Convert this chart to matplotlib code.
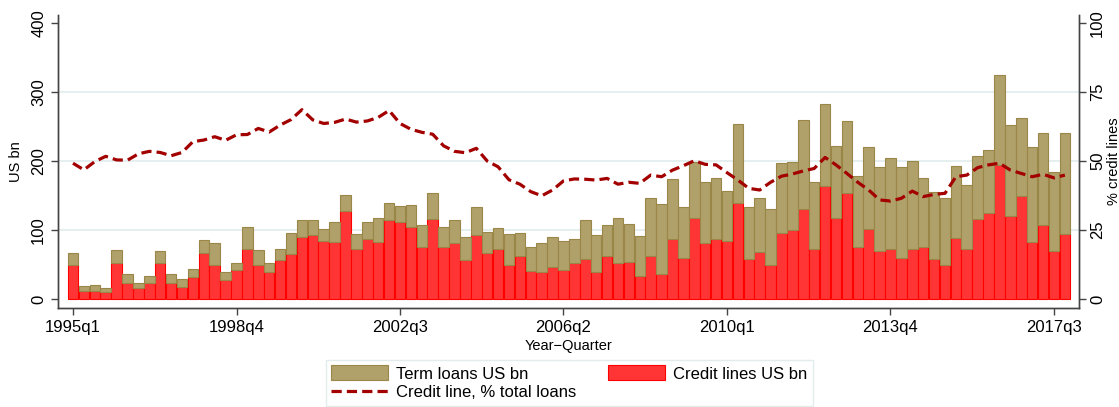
import matplotlib
matplotlib.use("Agg")
from matplotlib import pyplot as plt
from matplotlib.patches import Patch
from matplotlib.lines import Line2D

plt.rcParams["font.family"] = ["Liberation Sans", "DejaVu Sans"]

# quarterly loan volumes, 1995q1 .. 2017q4
total_loans = [66, 19, 20, 16, 71, 37, 23, 33, 70, 36, 29, 44, 85, 81, 39, 52,
               104, 71, 52, 72, 95, 114, 115, 101, 111, 151, 94, 112, 117, 139, 135, 136,
               107, 154, 105, 115, 90, 133, 97, 103, 94, 96, 76, 81, 90, 84, 87, 115,
               93, 107, 117, 109, 92, 146, 137, 174, 134, 199, 169, 175, 156, 253, 133, 146,
               131, 197, 198, 259, 170, 282, 222, 258, 179, 220, 191, 204, 191, 200, 176, 155,
               147, 193, 165, 207, 216, 324, 252, 263, 220, 240, 184, 240]
credit_lines = [50, 11, 11, 10, 52, 23, 16, 23, 52, 23, 17, 32, 66, 50, 27, 42,
                73, 49, 39, 56, 65, 90, 93, 84, 83, 128, 73, 87, 82, 115, 112, 104,
                75, 116, 75, 81, 57, 93, 67, 72, 49, 62, 41, 39, 47, 42, 52, 58,
                39, 62, 52, 53, 33, 62, 37, 87, 59, 118, 81, 87, 84, 139, 58, 68,
                49, 95, 100, 131, 73, 164, 117, 154, 76, 102, 70, 73, 60, 72, 75, 58,
                49, 89, 73, 116, 124, 194, 121, 149, 82, 107, 70, 94]
credit_share = [49.2, 46.8, 49.8, 51.7, 50.4, 50.3, 52.6, 53.5, 53.1, 51.9, 53.1, 57.0,
                57.6, 58.8, 57.5, 59.5, 59.6, 61.8, 60.5, 63.0, 65.0, 68.6, 64.9, 63.6,
                64.0, 65.2, 64.1, 64.5, 65.8, 68.3, 63.6, 61.5, 60.4, 59.7, 55.5, 53.5,
                53.0, 54.6, 50.0, 47.9, 43.2, 41.6, 38.9, 37.4, 39.5, 42.8, 43.5, 43.4,
                43.1, 43.7, 41.6, 42.3, 41.9, 44.9, 44.3, 46.7, 48.3, 50.1, 48.8, 48.6,
                45.8, 43.1, 40.1, 39.5, 42.3, 44.5, 45.3, 46.4, 47.3, 51.3, 48.6, 45.5,
                42.3, 39.5, 35.9, 35.5, 36.5, 39.1, 37.1, 37.9, 38.3, 44.3, 44.9, 47.6,
                48.6, 49.2, 46.7, 45.5, 44.3, 45.2, 43.9, 44.9]

term_loans = [t - c for t, c in zip(total_loans, credit_lines)]
quarters = [f"{1995 + i // 4}q{i % 4 + 1}" for i in range(len(total_loans))]
x = list(range(len(quarters)))

tan = "#b0a06a"
tan_edge = "#9a8748"
red = "#ff3535"
line_red = "#a30000"
grid_col = "#e6eff0"
axis_col = "#444444"

fig = plt.figure(figsize=(11.19, 4.07), dpi=100)
ax = fig.add_axes([0.0518, 0.2432, 0.9125, 0.72])
ax2 = ax.twinx()

ax.bar(x, credit_lines, width=0.97, color=red, edgecolor="#ff0000", linewidth=0.8, zorder=3)
ax.bar(x, term_loans, bottom=credit_lines, width=0.97, color=tan, edgecolor=tan_edge,
       linewidth=0.8, zorder=3)

ax2.plot(x, credit_share, color=line_red, lw=2.3, dashes=(3.2, 1.6),
         dash_capstyle="butt", zorder=4)

ax.set_xlim(-1.38, 92.3)
ax.set_ylim(-13, 411.6)
ax2.set_ylim(-13 / 4, 411.6 / 4)

ax.set_yticks([0, 100, 200, 300, 400])
ax2.set_yticks([0, 25, 50, 75, 100])
tick_pos = list(range(0, len(quarters), 15))
ax.set_xticks(tick_pos)
ax.set_xticklabels([quarters[i] for i in tick_pos])

for a in (ax, ax2):
    a.spines["top"].set_visible(False)
    for s in ("left", "right", "bottom"):
        a.spines[s].set_color(axis_col)
        a.spines[s].set_linewidth(1.0)
    a.tick_params(colors=axis_col, labelcolor="black", length=5, width=1.0, labelsize=12)

ax.tick_params(axis="y", labelrotation=90)
ax2.tick_params(axis="y", labelrotation=90, pad=3)
for lbl in ax.get_yticklabels() + ax2.get_yticklabels():
    lbl.set_verticalalignment("center")

ax.set_axisbelow(True)
ax.yaxis.grid(True, color=grid_col, lw=1.4)
for gl, v in zip(ax.yaxis.get_gridlines(), ax.get_yticks()):
    if v in (0, 400):
        gl.set_visible(False)

ax.set_xlabel("Year\u2212Quarter", fontsize=10.5, labelpad=3)
ax.set_ylabel("US bn", fontsize=10.5, labelpad=6)
ax2.set_ylabel("% credit lines", fontsize=10.5, labelpad=1)

handles = [Patch(facecolor=tan, edgecolor=tan_edge, lw=0.8),
           Line2D([], [], color=line_red, lw=2.3, dashes=(3.2, 1.6), dash_capstyle="butt"),
           Patch(facecolor=red, edgecolor="#ff0000", lw=0.8)]
labels = ["Term loans US bn", "Credit line, % total loans", "Credit lines US bn"]
leg = fig.legend(handles, labels, loc="upper center", bbox_to_anchor=(0.509, 0.137),
                 ncol=2, fontsize=12, frameon=True, fancybox=False,
                 handlelength=3.4, handleheight=1.0, columnspacing=1.9,
                 labelspacing=0.15, borderpad=0.35, handletextpad=0.5)
leg.get_frame().set_edgecolor("#dde8e8")
leg.get_frame().set_linewidth(1.0)

fig.savefig("out.png", dpi=100)
